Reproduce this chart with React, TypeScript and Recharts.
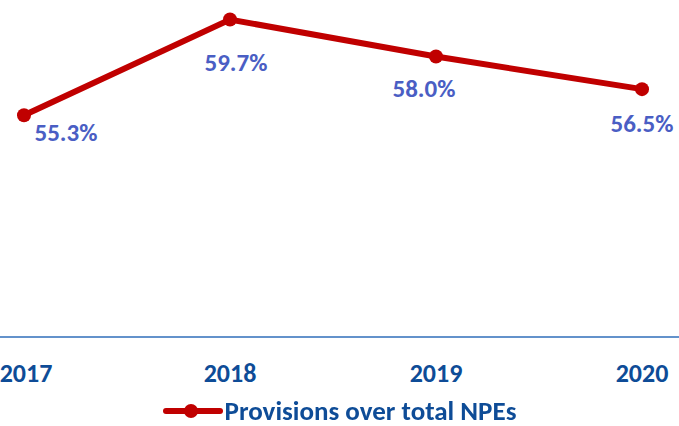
import { LineChart, Line, XAxis, YAxis, LabelList } from 'recharts';

const years = ['2017', '2018', '2019', '2020'];
const provisions = [55.3, 59.7, 58.0, 56.5];
const seriesName = 'Provisions over total NPEs';

// nudges for the data labels, like the hand-placed labels in the source
const labelNudge = [
  { dx: 42, dy: 17 },
  { dx: 6, dy: 43 },
  { dx: -12, dy: 32 },
  { dx: 0, dy: 34 },
];

const font = "Carlito, 'Liberation Sans Narrow', Lato, sans-serif";

const data = years.map((year, i) => ({ year, value: provisions[i] }));

const renderLabel = (props: any) => {
  const { x, y, value, index } = props;
  const n = labelNudge[index] || { dx: 0, dy: 36 };
  return (
    <text
      x={x + n.dx}
      y={y + n.dy}
      textAnchor="middle"
      dominantBaseline="central"
      fill="#4a5ec4"
      fontSize={25}
      fontWeight={700}
      fontFamily={font}
    >
      {value.toFixed(1)}%
    </text>
  );
};

// keep the first year inside the left edge
const YearTick = (props: any) => {
  const { x, y, payload } = props;
  return (
    <text
      x={Math.max(x, 26)}
      y={y}
      dy="0.71em"
      textAnchor="middle"
      fill="#0e4c97"
      fontSize={26}
      fontWeight={700}
      fontFamily={font}
    >
      {payload.value}
    </text>
  );
};

export default function App() {
  return (
    <div style={{ position: 'fixed', left: 0, top: 0, width: 679, height: 426, background: 'white' }}>
      <LineChart width={679} height={426} data={data} margin={{ top: 0, right: 0, left: 0, bottom: 39 }}>
        <XAxis
          dataKey="year"
          padding={{ left: 24, right: 37 }}
          axisLine={{ stroke: '#2f6eba', strokeWidth: 1.5 }}
          tickLine={false}
          tickSize={0}
          tickMargin={27}
          height={50}
          interval={0}
          tick={<YearTick />}
        />
        <YAxis hide domain={[45.1, 60.6]} />
        <Line
          type="linear"
          dataKey="value"
          name={seriesName}
          stroke="#c00000"
          strokeWidth={6}
          dot={{ r: 7, fill: '#c00000', stroke: 'none' }}
          activeDot={false}
          isAnimationActive={false}
        >
          <LabelList dataKey="value" content={renderLabel} />
        </Line>
      </LineChart>
      <div
        style={{
          position: 'absolute',
          left: 0,
          top: 398,
          width: 679,
          height: 26,
          display: 'flex',
          justifyContent: 'center',
          alignItems: 'center',
          whiteSpace: 'nowrap',
        }}
      >
        <svg width={60} height={16} style={{ marginRight: 2 }}>
          <line x1={3} y1={8} x2={57} y2={8} stroke="#c00000" strokeWidth={6} strokeLinecap="round" />
          <circle cx={28} cy={8} r={7} fill="#c00000" />
        </svg>
        <span style={{ color: '#0e4c97', fontSize: 27, fontWeight: 700, fontFamily: font, lineHeight: '26px' }}>
          {seriesName}
        </span>
      </div>
    </div>
  );
}
